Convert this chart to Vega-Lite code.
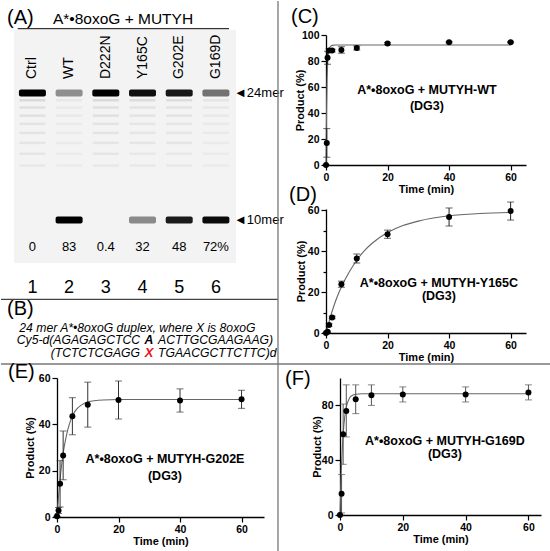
{
  "$schema": "https://vega.github.io/schema/vega-lite/v6.json",
  "padding": 0,
  "background": "white",
  "columns": 2,
  "spacing": {"row": 44, "column": 76},
  "align": "none",
  "bounds": "flush",
  "config": {
    "font": "Liberation Sans",
    "view": {"stroke": null},
    "title": {"fontSize": 20, "fontWeight": "normal", "anchor": "start", "frame": "group", "color": "black"},
    "axis": {
      "grid": false,
      "labelFontWeight": "bold",
      "labelFontSize": 10.5,
      "labelColor": "black",
      "labelPadding": 2,
      "labelFlush": false,
      "labelOverlap": false,
      "labelBound": false,
      "titleFontWeight": "bold",
      "titleFontSize": 11,
      "titleColor": "black",
      "domainColor": "black",
      "domainWidth": 1.3,
      "tickColor": "black",
      "tickWidth": 1.2,
      "labelExpr": "datum.value % 20 === 0 ? format(datum.value, 'd') : ''",
      "tickSize": {"condition": {"test": "datum.value % 20 === 0", "value": 5}, "value": 3}
    }
  },
  "datasets": {
    "lanes": [
      {"lane": 1, "name": "Ctrl", "pct": "0"},
      {"lane": 2, "name": "WT", "pct": "83"},
      {"lane": 3, "name": "D222N", "pct": "0.4"},
      {"lane": 4, "name": "Y165C", "pct": "32"},
      {"lane": 5, "name": "G202E", "pct": "48"},
      {"lane": 6, "name": "G169D", "pct": "72%"}
    ],
    "bands": [
      {"lane": 1, "nt": 24, "intensity": 1},
      {"lane": 2, "nt": 24, "intensity": 0.38},
      {"lane": 3, "nt": 24, "intensity": 1},
      {"lane": 4, "nt": 24, "intensity": 0.95},
      {"lane": 5, "nt": 24, "intensity": 0.92},
      {"lane": 6, "nt": 24, "intensity": 0.5},
      {"lane": 2, "nt": 10, "intensity": 1},
      {"lane": 4, "nt": 10, "intensity": 0.4},
      {"lane": 5, "nt": 10, "intensity": 0.9},
      {"lane": 6, "nt": 10, "intensity": 0.97}
    ],
    "ladder": [
      {"lane": 1, "nt": 23.2, "intensity": 0.09}, {"lane": 1, "nt": 22.4, "intensity": 0.07}, {"lane": 1, "nt": 21.5, "intensity": 0.07}, {"lane": 1, "nt": 20.6, "intensity": 0.06},
      {"lane": 1, "nt": 19.6, "intensity": 0.06}, {"lane": 1, "nt": 18.5, "intensity": 0.05}, {"lane": 1, "nt": 17.3, "intensity": 0.05}, {"lane": 1, "nt": 16.0, "intensity": 0.04},
      {"lane": 2, "nt": 23.2, "intensity": 0.04}, {"lane": 2, "nt": 22.4, "intensity": 0.035}, {"lane": 2, "nt": 21.5, "intensity": 0.035}, {"lane": 2, "nt": 20.6, "intensity": 0.03},
      {"lane": 2, "nt": 19.6, "intensity": 0.03}, {"lane": 2, "nt": 18.5, "intensity": 0.03}, {"lane": 2, "nt": 17.3, "intensity": 0.03}, {"lane": 2, "nt": 16.0, "intensity": 0.03},
      {"lane": 3, "nt": 23.2, "intensity": 0.09}, {"lane": 3, "nt": 22.4, "intensity": 0.07}, {"lane": 3, "nt": 21.5, "intensity": 0.07}, {"lane": 3, "nt": 20.6, "intensity": 0.06},
      {"lane": 3, "nt": 19.6, "intensity": 0.06}, {"lane": 3, "nt": 18.5, "intensity": 0.05}, {"lane": 3, "nt": 17.3, "intensity": 0.05}, {"lane": 3, "nt": 16.0, "intensity": 0.04},
      {"lane": 4, "nt": 23.2, "intensity": 0.08}, {"lane": 4, "nt": 22.4, "intensity": 0.06}, {"lane": 4, "nt": 21.5, "intensity": 0.06}, {"lane": 4, "nt": 20.6, "intensity": 0.05},
      {"lane": 4, "nt": 19.6, "intensity": 0.05}, {"lane": 4, "nt": 18.5, "intensity": 0.05}, {"lane": 4, "nt": 17.3, "intensity": 0.04}, {"lane": 4, "nt": 16.0, "intensity": 0.04},
      {"lane": 5, "nt": 23.2, "intensity": 0.08}, {"lane": 5, "nt": 22.4, "intensity": 0.06}, {"lane": 5, "nt": 21.5, "intensity": 0.06}, {"lane": 5, "nt": 20.6, "intensity": 0.05},
      {"lane": 5, "nt": 19.6, "intensity": 0.05}, {"lane": 5, "nt": 18.5, "intensity": 0.05}, {"lane": 5, "nt": 17.3, "intensity": 0.04}, {"lane": 5, "nt": 16.0, "intensity": 0.04},
      {"lane": 6, "nt": 23.2, "intensity": 0.05}, {"lane": 6, "nt": 22.4, "intensity": 0.04}, {"lane": 6, "nt": 21.5, "intensity": 0.04}, {"lane": 6, "nt": 20.6, "intensity": 0.035},
      {"lane": 6, "nt": 19.6, "intensity": 0.035}, {"lane": 6, "nt": 18.5, "intensity": 0.03}, {"lane": 6, "nt": 17.3, "intensity": 0.03}, {"lane": 6, "nt": 16.0, "intensity": 0.03}
    ],
    "markers": [
      {"nt": 24, "label": "◄24mer"},
      {"nt": 10, "label": "◄10mer"}
    ],
    "c": [
      {"t": 0, "p": 0, "sd": 0},
      {"t": 0.25, "p": 17, "sd": 11},
      {"t": 0.5, "p": 82.5, "sd": 5},
      {"t": 1, "p": 88, "sd": 1.5},
      {"t": 2, "p": 88, "sd": 1},
      {"t": 5, "p": 88.5, "sd": 2.5},
      {"t": 10, "p": 90, "sd": 1.5},
      {"t": 20, "p": 93.5, "sd": 0.8},
      {"t": 40, "p": 94.5, "sd": 0.6},
      {"t": 60, "p": 94.5, "sd": 0.6}
    ],
    "c_fit": [
      {"t": 0, "p": 0}, {"t": 0.1, "p": 25}, {"t": 0.2, "p": 45}, {"t": 0.35, "p": 65}, {"t": 0.5, "p": 76},
      {"t": 0.75, "p": 85}, {"t": 1, "p": 89}, {"t": 1.5, "p": 91.3}, {"t": 2, "p": 92}, {"t": 3, "p": 92.3}, {"t": 60, "p": 92.3}
    ],
    "d": [
      {"t": 0, "p": 0, "sd": 0},
      {"t": 0.5, "p": 0.6, "sd": 0.3},
      {"t": 1, "p": 3.9, "sd": 0.6},
      {"t": 2, "p": 7.6, "sd": 0.6},
      {"t": 5, "p": 23.8, "sd": 1.5},
      {"t": 10, "p": 36.3, "sd": 2.2},
      {"t": 20, "p": 48.2, "sd": 2},
      {"t": 40, "p": 56.6, "sd": 4.4},
      {"t": 60, "p": 59.5, "sd": 4.4}
    ],
    "d_fit": [
      {"t": 0, "p": 0}, {"t": 1, "p": 5.5}, {"t": 2, "p": 10.6}, {"t": 3, "p": 15.1}, {"t": 4, "p": 19}, {"t": 5, "p": 22.4},
      {"t": 7.5, "p": 29.6}, {"t": 10, "p": 35.5}, {"t": 12.5, "p": 40.2}, {"t": 15, "p": 43.8}, {"t": 20, "p": 49},
      {"t": 25, "p": 52.4}, {"t": 30, "p": 54.6}, {"t": 40, "p": 57.2}, {"t": 50, "p": 58.3}, {"t": 60, "p": 58.8}
    ],
    "e": [
      {"t": 0, "p": 0.3, "sd": 0},
      {"t": 0.5, "p": 2.8, "sd": 1.3},
      {"t": 1, "p": 14.3, "sd": 10},
      {"t": 2, "p": 26.6, "sd": 10.5},
      {"t": 5, "p": 43.5, "sd": 8},
      {"t": 10, "p": 48.5, "sd": 9.7},
      {"t": 20, "p": 50.5, "sd": 8.2},
      {"t": 40, "p": 50.3, "sd": 5},
      {"t": 60, "p": 50.8, "sd": 3.9}
    ],
    "e_fit": [
      {"t": 0, "p": 0}, {"t": 0.5, "p": 8.9}, {"t": 1, "p": 16.4}, {"t": 1.5, "p": 22.4}, {"t": 2, "p": 27.5}, {"t": 3, "p": 34.8},
      {"t": 4, "p": 40}, {"t": 5, "p": 43.5}, {"t": 6, "p": 45.9}, {"t": 8, "p": 48.4}, {"t": 10, "p": 49.7}, {"t": 15, "p": 50.5},
      {"t": 20, "p": 50.7}, {"t": 60, "p": 50.7}
    ],
    "f": [
      {"t": 0, "p": 0, "sd": 0},
      {"t": 0.5, "p": 15.5, "sd": 14},
      {"t": 1, "p": 59, "sd": 22},
      {"t": 2, "p": 76, "sd": 19},
      {"t": 5, "p": 84.5, "sd": 10.5},
      {"t": 10, "p": 87.5, "sd": 7.5},
      {"t": 20, "p": 88, "sd": 5.5},
      {"t": 40, "p": 88, "sd": 5.5},
      {"t": 60, "p": 89.5, "sd": 5.5}
    ],
    "f_fit": [
      {"t": 0, "p": 0}, {"t": 0.25, "p": 21.8}, {"t": 0.5, "p": 37.6}, {"t": 0.75, "p": 49.6}, {"t": 1, "p": 59}, {"t": 1.5, "p": 71.4},
      {"t": 2, "p": 78.7}, {"t": 3, "p": 85.2}, {"t": 4, "p": 87.4}, {"t": 5, "p": 88.1}, {"t": 7, "p": 88.5}, {"t": 60, "p": 88.5}
    ]
  },
  "concat": [
    {
      "width": 200,
      "height": 299,
      "layer": [
        {
          "data": {"values": [{}]},
          "mark": {"type": "rect", "color": "#f3f3f3"},
          "encoding": {
            "x": {"datum": 0.498, "type": "quantitative", "axis": null},
            "x2": {"datum": 6.548},
            "y": {"datum": 30.945, "type": "quantitative", "axis": null},
            "y2": {"datum": 5.26}
          }
        },
        {
          "data": {"name": "ladder"},
          "mark": {"type": "tick", "orient": "horizontal", "size": 26, "thickness": 2.5, "opacity": 1},
          "encoding": {
            "x": {"field": "lane", "type": "quantitative", "scale": {"domain": [1.67, 7.12], "nice": false, "zero": false}, "axis": null},
            "y": {"field": "nt", "type": "quantitative", "scale": {"domain": [-2.567, 30.394], "nice": false, "zero": false}, "axis": null},
            "color": {"field": "intensity", "type": "quantitative", "scale": {"domain": [0, 1], "range": ["#f3f3f3", "#000000"]}, "legend": null}
          }
        },
        {
          "data": {"name": "bands"},
          "mark": {"type": "tick", "orient": "horizontal", "size": 27, "thickness": 7, "opacity": 1, "cornerRadius": 2},
          "encoding": {
            "x": {"field": "lane", "type": "quantitative", "scale": {"domain": [1.67, 7.12], "nice": false, "zero": false}, "axis": null},
            "y": {"field": "nt", "type": "quantitative", "scale": {"domain": [-2.567, 30.394], "nice": false, "zero": false}, "axis": null},
            "color": {"field": "intensity", "type": "quantitative", "scale": {"domain": [0, 1], "range": ["#f3f3f3", "#000000"]}, "legend": null}
          }
        },
        {
          "data": {"name": "lanes"},
          "mark": {"type": "text", "angle": 270, "align": "left", "baseline": "middle", "fontSize": 14, "color": "black"},
          "encoding": {
            "x": {"field": "lane", "type": "quantitative", "axis": null},
            "y": {"datum": 25.54, "type": "quantitative", "axis": null},
            "text": {"field": "name"}
          }
        },
        {
          "data": {"name": "lanes"},
          "mark": {"type": "text", "align": "center", "baseline": "middle", "fontSize": 13, "color": "black"},
          "encoding": {
            "x": {"field": "lane", "type": "quantitative", "axis": null},
            "y": {"datum": 7.024, "type": "quantitative", "axis": null},
            "text": {"field": "pct"}
          }
        },
        {
          "data": {"name": "lanes"},
          "mark": {"type": "text", "align": "center", "baseline": "middle", "fontSize": 18, "color": "black"},
          "encoding": {
            "x": {"field": "lane", "type": "quantitative", "axis": null},
            "y": {"datum": 2.537, "type": "quantitative", "axis": null},
            "text": {"field": "lane"}
          }
        },
        {
          "data": {"name": "markers"},
          "mark": {"type": "text", "align": "left", "baseline": "middle", "fontSize": 13, "color": "black"},
          "encoding": {
            "x": {"datum": 6.493, "type": "quantitative", "axis": null},
            "y": {"field": "nt", "type": "quantitative", "axis": null},
            "text": {"field": "label"}
          }
        },
        {
          "data": {"values": [{}]},
          "mark": {"type": "text", "align": "center", "baseline": "middle", "fontSize": 15.5, "color": "black"},
          "encoding": {
            "x": {"datum": 3.4685, "type": "quantitative"},
            "y": {"datum": 32.157, "type": "quantitative"},
            "text": {"value": "A*•8oxoG + MUTYH"}
          }
        },
        {
          "data": {"values": [{}]},
          "mark": {"type": "rule", "color": "#333", "strokeWidth": 1.2},
          "encoding": {
            "x": {"datum": 0.599, "type": "quantitative"},
            "x2": {"datum": 6.357},
            "y": {"datum": 31.088, "type": "quantitative"}
          }
        },
        {
          "data": {"values": [{}]},
          "mark": {"type": "text", "align": "left", "baseline": "middle", "fontSize": 20, "color": "black"},
          "encoding": {
            "x": {"datum": 0.3075, "type": "quantitative"},
            "y": {"datum": 32.32, "type": "quantitative"},
            "text": {"value": "(A)"}
          }
        },
        {
          "data": {"values": [{}]},
          "mark": {"type": "text", "align": "left", "baseline": "middle", "fontSize": 20, "color": "black"},
          "encoding": {
            "x": {"datum": 0.3075, "type": "quantitative"},
            "y": {"datum": 0.134, "type": "quantitative"},
            "text": {"value": "(B)"}
          }
        },
        {
          "data": {"values": [{}]},
          "mark": {"type": "text", "align": "left", "baseline": "middle", "fontSize": 12.2, "fontStyle": "italic", "color": "black"},
          "encoding": {
            "x": {"datum": 0.643, "type": "quantitative"},
            "y": {"datum": -1.905, "type": "quantitative"},
            "text": {"value": "24 mer A*•8oxoG duplex, where X is 8oxoG"}
          }
        },
        {
          "data": {"values": [{}]},
          "mark": {"type": "text", "align": "right", "baseline": "middle", "dx": -9, "fontSize": 12.2, "fontStyle": "italic", "color": "black"},
          "encoding": {
            "x": {"datum": 4.177, "type": "quantitative"},
            "y": {"datum": -3.283, "type": "quantitative"},
            "text": {"value": "Cy5-d(AGAGAGCTCC"}
          }
        },
        {
          "data": {"values": [{}]},
          "mark": {"type": "text", "align": "center", "baseline": "middle", "fontSize": 12.2, "fontStyle": "italic", "fontWeight": "bold", "color": "black"},
          "encoding": {
            "x": {"datum": 4.177, "type": "quantitative"},
            "y": {"datum": -3.283, "type": "quantitative"},
            "text": {"value": "A"}
          }
        },
        {
          "data": {"values": [{}]},
          "mark": {"type": "text", "align": "left", "baseline": "middle", "dx": 9, "fontSize": 12.2, "fontStyle": "italic", "color": "black"},
          "encoding": {
            "x": {"datum": 4.177, "type": "quantitative"},
            "y": {"datum": -3.283, "type": "quantitative"},
            "text": {"value": "ACTTGCGAAGAAG)"}
          }
        },
        {
          "data": {"values": [{}]},
          "mark": {"type": "text", "align": "right", "baseline": "middle", "dx": -9, "fontSize": 12.2, "fontStyle": "italic", "color": "black"},
          "encoding": {
            "x": {"datum": 4.177, "type": "quantitative"},
            "y": {"datum": -4.661, "type": "quantitative"},
            "text": {"value": "(TCTCTCGAGG"}
          }
        },
        {
          "data": {"values": [{}]},
          "mark": {"type": "text", "align": "center", "baseline": "middle", "fontSize": 13, "fontStyle": "italic", "fontWeight": "bold", "color": "#e8141c"},
          "encoding": {
            "x": {"datum": 4.177, "type": "quantitative"},
            "y": {"datum": -4.661, "type": "quantitative"},
            "text": {"value": "X"}
          }
        },
        {
          "data": {"values": [{}]},
          "mark": {"type": "text", "align": "left", "baseline": "middle", "dx": 9, "fontSize": 12.2, "fontStyle": "italic", "color": "black"},
          "encoding": {
            "x": {"datum": 4.177, "type": "quantitative"},
            "y": {"datum": -4.661, "type": "quantitative"},
            "text": {"value": "TGAACGCTTCTTC)d"}
          }
        },
        {
          "data": {"values": [{}]},
          "mark": {"type": "rule", "color": "#444", "strokeWidth": 1.2},
          "encoding": {
            "x": {"datum": 0.144, "type": "quantitative"},
            "x2": {"datum": 7.692},
            "y": {"datum": 1.259, "type": "quantitative"}
          }
        },
        {
          "data": {"values": [{}]},
          "mark": {"type": "rule", "color": "#777", "strokeWidth": 1.3},
          "encoding": {
            "x": {"datum": 0.144, "type": "quantitative"},
            "x2": {"datum": 15.132},
            "y": {"datum": -5.874, "type": "quantitative"}
          }
        },
        {
          "data": {"values": [{}]},
          "mark": {"type": "rule", "color": "#777", "strokeWidth": 1.3},
          "encoding": {
            "x": {"datum": 7.692, "type": "quantitative"},
            "y": {"datum": 34.142, "type": "quantitative"},
            "y2": {"datum": -26.598}
          }
        }
      ]
    },
    {
      "width": 200,
      "height": 298,
      "resolve": {"scale": {"x": "independent", "y": "independent"}, "axis": {"x": "independent", "y": "independent"}},
      "layer": [
        {
          "layer": [
            {
              "data": {"name": "c_fit"},
              "mark": {"type": "line", "color": "#666", "strokeWidth": 1.1, "interpolate": "monotone"},
              "encoding": {
                "x": {"field": "t", "type": "quantitative", "title": "Time (min)", "scale": {"domain": [0, 65], "range": [-14, 186], "nice": false, "zero": false},
                      "axis": {"orient": "bottom", "offset": -168, "titlePadding": 1, "values": [0, 5, 10, 15, 20, 25, 30, 35, 40, 45, 50, 55, 60, 65]}},
                "y": {"field": "p", "type": "quantitative", "title": "Product (%)", "scale": {"domain": [0, 100], "range": [130, 0], "nice": false, "zero": false},
                      "axis": {"orient": "left", "offset": 14, "titlePadding": -4, "values": [0, 5, 10, 15, 20, 25, 30, 35, 40, 45, 50, 55, 60, 65, 70, 75, 80, 85, 90, 95, 100]}}
              }
            },
            {
              "data": {"name": "c"},
              "mark": {"type": "errorbar", "ticks": {"size": 7}, "color": "#222", "thickness": 1},
              "encoding": {
                "x": {"field": "t", "type": "quantitative", "title": "Time (min)"},
                "y": {"field": "p", "type": "quantitative", "title": "Product (%)"},
                "yError": {"field": "sd"}
              }
            },
            {
              "data": {"name": "c"},
              "mark": {"type": "point", "filled": true, "color": "black", "size": 36, "opacity": 1},
              "encoding": {
                "x": {"field": "t", "type": "quantitative", "title": "Time (min)"},
                "y": {"field": "p", "type": "quantitative", "title": "Product (%)"}
              }
            },
            {
              "data": {"values": [{}]},
              "mark": {"type": "text", "fontSize": 12.5, "fontWeight": "bold", "lineHeight": 15.7, "align": "center", "baseline": "middle", "color": "black"},
              "encoding": {
                "x": {"datum": 32.8, "type": "quantitative"},
                "y": {"datum": 57.8, "type": "quantitative"},
                "text": {"value": ["A*•8oxoG + MUTYH-WT", "(DG3)"]}
              }
            },
            {
              "data": {"values": [{}]},
              "mark": {"type": "text", "fontSize": 20, "align": "left", "baseline": "middle", "color": "black"},
              "encoding": {
                "x": {"datum": -11.37, "type": "quantitative"},
                "y": {"datum": 113.8, "type": "quantitative"},
                "text": {"value": "(C)"}
              }
            }
          ]
        },
        {
          "layer": [
            {
              "data": {"name": "d_fit"},
              "mark": {"type": "line", "color": "#666", "strokeWidth": 1.1, "interpolate": "monotone"},
              "encoding": {
                "x": {"field": "t", "type": "quantitative", "title": "Time (min)", "scale": {"domain": [0, 65], "range": [-14, 186], "nice": false, "zero": false},
                      "axis": {"orient": "bottom", "titlePadding": 1, "values": [0, 5, 10, 15, 20, 25, 30, 35, 40, 45, 50, 55, 60, 65]}},
                "y": {"field": "p", "type": "quantitative", "title": "Product (%)", "scale": {"domain": [0, 60.5], "range": [298, 174], "nice": false, "zero": false},
                      "axis": {"orient": "left", "offset": 14, "titlePadding": 1, "values": [0, 5, 10, 15, 20, 25, 30, 35, 40, 45, 50, 55, 60]}}
              }
            },
            {
              "data": {"name": "d"},
              "mark": {"type": "errorbar", "ticks": {"size": 7}, "color": "#222", "thickness": 1},
              "encoding": {
                "x": {"field": "t", "type": "quantitative", "title": "Time (min)"},
                "y": {"field": "p", "type": "quantitative", "title": "Product (%)"},
                "yError": {"field": "sd"}
              }
            },
            {
              "data": {"name": "d"},
              "mark": {"type": "point", "filled": true, "color": "black", "size": 36, "opacity": 1},
              "encoding": {
                "x": {"field": "t", "type": "quantitative", "title": "Time (min)"},
                "y": {"field": "p", "type": "quantitative", "title": "Product (%)"}
              }
            },
            {
              "data": {"values": [{}]},
              "mark": {"type": "text", "fontSize": 12.5, "fontWeight": "bold", "lineHeight": 13.3, "align": "center", "baseline": "middle", "color": "black"},
              "encoding": {
                "x": {"datum": 36.7, "type": "quantitative"},
                "y": {"datum": 24.6, "type": "quantitative"},
                "text": {"value": ["A*•8oxoG + MUTYH-Y165C", "(DG3)"]}
              }
            },
            {
              "data": {"values": [{}]},
              "mark": {"type": "text", "fontSize": 20, "align": "left", "baseline": "middle", "color": "black"},
              "encoding": {
                "x": {"datum": -12.0, "type": "quantitative"},
                "y": {"datum": 67.57, "type": "quantitative"},
                "text": {"value": "(D)"}
              }
            }
          ]
        }
      ]
    },
    {
      "width": 207,
      "height": 139,
      "title": {"text": "(E)", "dx": -49, "offset": -9},
      "layer": [
        {
          "data": {"name": "e_fit"},
          "mark": {"type": "line", "color": "#666", "strokeWidth": 1.1, "interpolate": "monotone"},
          "encoding": {
            "x": {"field": "t", "type": "quantitative", "title": "Time (min)", "scale": {"domain": [0, 67.3], "nice": false, "zero": false},
                  "axis": {"titlePadding": 1, "values": [0, 5, 10, 15, 20, 25, 30, 35, 40, 45, 50, 55, 60, 65]}},
            "y": {"field": "p", "type": "quantitative", "title": "Product (%)", "scale": {"domain": [0, 60], "nice": false, "zero": false},
                  "axis": {"titlePadding": 3, "values": [0, 5, 10, 15, 20, 25, 30, 35, 40, 45, 50, 55, 60]}}
          }
        },
        {
          "data": {"name": "e"},
          "mark": {"type": "errorbar", "ticks": {"size": 7}, "color": "#333", "thickness": 1},
          "encoding": {
            "x": {"field": "t", "type": "quantitative", "title": "Time (min)"},
            "y": {"field": "p", "type": "quantitative", "title": "Product (%)"},
            "yError": {"field": "sd"}
          }
        },
        {
          "data": {"name": "e"},
          "mark": {"type": "point", "filled": true, "color": "black", "size": 36, "opacity": 1},
          "encoding": {
            "x": {"field": "t", "type": "quantitative", "title": "Time (min)"},
            "y": {"field": "p", "type": "quantitative", "title": "Product (%)"}
          }
        },
        {
          "data": {"values": [{}]},
          "mark": {"type": "text", "fontSize": 12.5, "fontWeight": "bold", "lineHeight": 16.7, "align": "center", "baseline": "middle", "color": "black"},
          "encoding": {
            "x": {"datum": 35.1, "type": "quantitative"},
            "y": {"datum": 24.9, "type": "quantitative"},
            "text": {"value": ["A*•8oxoG + MUTYH-G202E", "(DG3)"]}
          }
        }
      ]
    },
    {
      "width": 201,
      "height": 137,
      "title": {"text": "(F)", "dx": -55, "offset": -11},
      "layer": [
        {
          "data": {"name": "f_fit"},
          "mark": {"type": "line", "color": "#666", "strokeWidth": 1.1, "interpolate": "monotone"},
          "encoding": {
            "x": {"field": "t", "type": "quantitative", "title": "Time (min)", "scale": {"domain": [0, 64], "nice": false, "zero": false},
                  "axis": {"titlePadding": 1, "values": [0, 5, 10, 15, 20, 25, 30, 35, 40, 45, 50, 55, 60]}},
            "y": {"field": "p", "type": "quantitative", "title": "Product (%)", "scale": {"domain": [0, 100], "nice": false, "zero": false},
                  "axis": {"titlePadding": -1, "values": [0, 5, 10, 15, 20, 25, 30, 35, 40, 45, 50, 55, 60, 65, 70, 75, 80, 85, 90, 95, 100]}}
          }
        },
        {
          "data": {"name": "f"},
          "mark": {"type": "errorbar", "ticks": {"size": 7}, "color": "#555", "thickness": 1},
          "encoding": {
            "x": {"field": "t", "type": "quantitative", "title": "Time (min)"},
            "y": {"field": "p", "type": "quantitative", "title": "Product (%)"},
            "yError": {"field": "sd"}
          }
        },
        {
          "data": {"name": "f"},
          "mark": {"type": "point", "filled": true, "color": "black", "size": 36, "opacity": 1},
          "encoding": {
            "x": {"field": "t", "type": "quantitative", "title": "Time (min)"},
            "y": {"field": "p", "type": "quantitative", "title": "Product (%)"}
          }
        },
        {
          "data": {"values": [{}]},
          "mark": {"type": "text", "fontSize": 12.5, "fontWeight": "bold", "lineHeight": 13.3, "align": "center", "baseline": "middle", "color": "black"},
          "encoding": {
            "x": {"datum": 33.4, "type": "quantitative"},
            "y": {"datum": 54.3, "type": "quantitative"},
            "text": {"value": ["A*•8oxoG + MUTYH-G169D", "(DG3)"]}
          }
        }
      ]
    }
  ]
}
